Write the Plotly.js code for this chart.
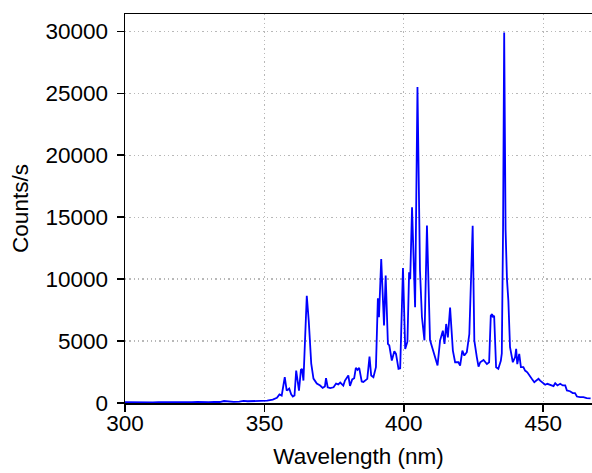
<!DOCTYPE html>
<html>
<head>
<meta charset="utf-8">
<script src="https://cdn.plot.ly/plotly-3.0.1.min.js"></script>
<style>html,body{margin:0;padding:0;background:#fff;}#chart{width:592px;height:473px;}</style>
</head>
<body>
<div id="chart"></div>
<script>
// Wavelength (nm)
var wavelengths = [
  300, 302, 304, 306, 308, 310, 312, 314, 316, 318, 320, 322, 324, 326, 328, 330, 332, 334,
  335.5, 337, 339, 341, 342.5, 344, 345.5, 347, 349, 351, 353, 354.5, 355.4, 356.2,
  357.3, 358.0, 358.9, 359.6, 360.2, 360.8, 361.4, 361.8, 362.4, 363.1, 363.5, 364.0,
  365.2, 365.9, 366.8, 367.6, 368.8, 370.0, 370.9, 371.7, 372.1, 372.7, 373.6, 374.8,
  375.7, 376.5, 377.2, 378.3, 378.9, 380.1, 380.7, 381.5, 382.2, 382.8, 383.4, 384.0,
  384.9, 385.5, 386.1, 386.9, 387.7, 388.3, 389.1, 390.0, 390.7, 391.1, 391.9, 392.9,
  393.5, 394.3, 394.8, 395.7, 396.6, 397.2, 398.1, 398.7, 399.7, 400.5, 401.3, 401.9,
  402.3, 402.95, 404.05, 404.9, 405.8, 406.5, 407.4, 408.3, 409.4, 410.9, 412.1, 413.0,
  414.0, 414.6, 415.2, 415.8, 416.6, 417.6, 418.4, 419.6, 420.2, 421.0, 421.7, 422.6,
  423.5, 424.7, 425.3, 426.2, 426.8, 427.4, 428.6, 429.8, 430.6, 431.2, 431.7, 431.9,
  432.4, 433.1, 433.9, 434.8, 435.15, 435.6, 436.0, 436.5, 437.0, 437.5, 438.1, 439.1,
  439.9, 440.3, 440.7, 441.4, 442.0, 442.9, 443.5, 444.3, 445.0, 445.9, 446.8, 447.5,
  448.3, 448.9, 449.9, 450.7, 451.5, 452.5, 453.7, 454.3, 455.1, 456.1, 457.0, 457.9,
  458.5, 459.6, 460.6, 461.4, 462.1, 463.2, 464.4, 465.6, 467.0
];
// Counts per second
var counts = [
  60, 50, 70, 40, 60, 50, 70, 60, 50, 60, 70, 50, 60, 80, 60, 70, 90, 80,
  160, 120, 90, 110, 170, 140, 150, 170, 150, 190, 270, 420, 690, 600,
  2080, 1000, 1170, 700, 520, 600, 2620, 1810, 1000, 2680, 2750, 1810,
  8660, 6650, 3180, 1970, 1570, 1410, 1220, 1330, 2000, 1270, 1200, 1270,
  1570, 1500, 1650, 1410, 1810, 2220, 1380, 1900, 2000, 2840, 2680, 2840,
  1740, 1700, 1810, 1950, 3750, 2220, 2080, 2890, 8450, 6920, 11620, 6250,
  10280, 4770, 4640, 3430, 4180, 3960, 2760, 2800, 10900, 4370, 4950, 10560,
  10000, 15800, 7730, 25500, 10700, 6940, 5060, 14320, 5080, 3980, 3030, 5040,
  5840, 4770, 6380, 5300, 7700, 4230, 3290, 3290, 3020, 4230, 3830, 4100,
  5570, 14300, 5040, 3690, 2930, 3290, 3470, 3140, 3290, 7050, 7180, 6920,
  7050, 2890, 2760, 3400, 4000, 14000, 29900, 14000, 10000, 8260, 4500, 3290,
  3690, 4370, 3140, 3970, 2890, 2890, 2620, 2480, 2220, 1950, 1680, 1800,
  1950, 1800, 1600, 1470, 1550, 1470, 1370, 1600, 1420, 1550, 1420, 1420,
  1010, 950, 800, 800, 520, 470, 470, 400, 380
];
var xTicks = [300, 350, 400, 450];
var yTicks = [0, 5000, 10000, 15000, 20000, 25000, 30000];

var FONT = 'Liberation Sans, Arial, Helvetica, sans-serif';
var axisCommon = {
  showline: true, linecolor: '#000', linewidth: 1.5,
  ticks: 'outside', ticklen: 7, tickwidth: 1.5, tickcolor: '#000',
  showgrid: true, gridcolor: '#b8b8b8', gridwidth: 1.3, griddash: '1.3px,3px',
  zeroline: false, automargin: false,
  tickfont: {family: FONT, size: 22.5, color: '#000'}
};

var trace = {
  x: wavelengths, y: counts, type: 'scatter', mode: 'lines',
  line: {color: '#0000ff', width: 1.8}, hoverinfo: 'skip'
};

var layout = {
  width: 592, height: 473,
  margin: {l: 125, r: 0, t: 14, b: 70, pad: 0},
  paper_bgcolor: '#fff', plot_bgcolor: '#fff',
  showlegend: false,
  font: {family: FONT, color: '#000'},
  xaxis: Object.assign({}, axisCommon, {
    range: [300, 467.5], tickmode: 'array', tickvals: xTicks, ticktext: xTicks.map(String),
    mirror: true, ticklabelstandoff: -8,
    title: {text: 'Wavelength (nm)', font: {family: FONT, size: 22.5, color: '#000'}, standoff: 13}
  }),
  yaxis: Object.assign({}, axisCommon, {
    range: [0, 31400], tickmode: 'array', tickvals: yTicks, ticktext: yTicks.map(String),
    mirror: false, ticklabelstandoff: 4,
    title: {text: 'Counts/s', font: {family: FONT, size: 22.5, color: '#000'}, standoff: 10}
  })
};

Plotly.newPlot('chart', [trace], layout, {displayModeBar: false, staticPlot: true});
</script>
</body>
</html>
